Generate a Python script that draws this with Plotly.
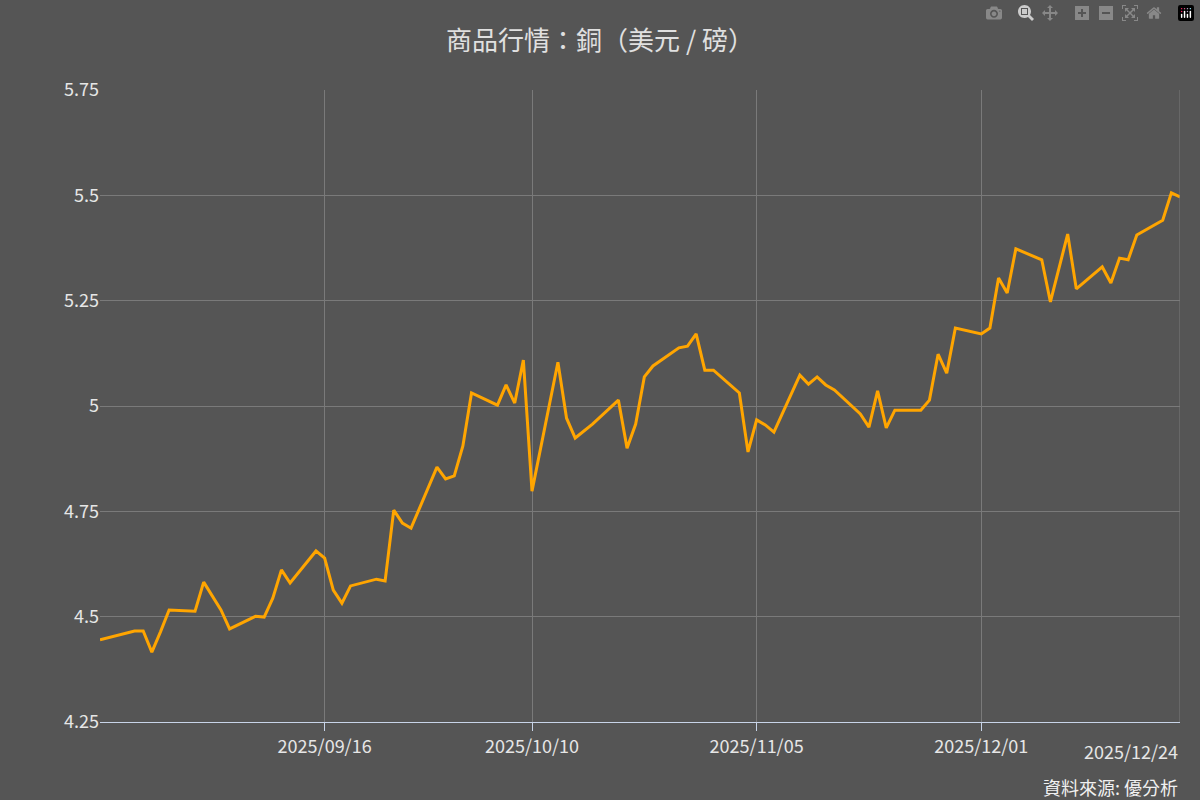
import plotly.graph_objects as go

dates = ["2025-08-21", "2025-08-25", "2025-08-26", "2025-08-27", "2025-08-28", "2025-08-29",
         "2025-09-01", "2025-09-02", "2025-09-04", "2025-09-05", "2025-09-08", "2025-09-09",
         "2025-09-10", "2025-09-11", "2025-09-12", "2025-09-15", "2025-09-16", "2025-09-17",
         "2025-09-18", "2025-09-19", "2025-09-22", "2025-09-23", "2025-09-24", "2025-09-25",
         "2025-09-26", "2025-09-29", "2025-09-30", "2025-10-01", "2025-10-02", "2025-10-03",
         "2025-10-06", "2025-10-07", "2025-10-08", "2025-10-09", "2025-10-10", "2025-10-13",
         "2025-10-14", "2025-10-15", "2025-10-17", "2025-10-20", "2025-10-21", "2025-10-22",
         "2025-10-23", "2025-10-24", "2025-10-27", "2025-10-28", "2025-10-29", "2025-10-30",
         "2025-10-31", "2025-11-03", "2025-11-04", "2025-11-05", "2025-11-06", "2025-11-07",
         "2025-11-10", "2025-11-11", "2025-11-12", "2025-11-13", "2025-11-14", "2025-11-17",
         "2025-11-18", "2025-11-19", "2025-11-20", "2025-11-21", "2025-11-24", "2025-11-25",
         "2025-11-26", "2025-11-27", "2025-11-28", "2025-12-01", "2025-12-02", "2025-12-03",
         "2025-12-04", "2025-12-05", "2025-12-08", "2025-12-09", "2025-12-11", "2025-12-12",
         "2025-12-15", "2025-12-16", "2025-12-17", "2025-12-18", "2025-12-19", "2025-12-22",
         "2025-12-23", "2025-12-24"]
prices = [4.445, 4.466, 4.466, 4.416, 4.464, 4.516,
          4.513, 4.582, 4.516, 4.471, 4.501, 4.499,
          4.544, 4.611, 4.580, 4.656, 4.639, 4.563,
          4.532, 4.573, 4.589, 4.585, 4.753, 4.722,
          4.710, 4.855, 4.827, 4.834, 4.905, 5.031,
          5.002, 5.050, 5.007, 5.109, 4.798, 5.104,
          4.971, 4.924, 4.957, 5.014, 4.900, 4.957,
          5.069, 5.095, 5.138, 5.142, 5.171, 5.085,
          5.085, 5.031, 4.891, 4.967, 4.955, 4.938,
          5.073, 5.052, 5.069, 5.050, 5.038, 4.981,
          4.950, 5.036, 4.948, 4.990, 4.990, 5.014,
          5.123, 5.078, 5.185, 5.171, 5.185, 5.304,
          5.268, 5.373, 5.347, 5.247, 5.408, 5.278,
          5.330, 5.292, 5.351, 5.347, 5.406, 5.441,
          5.506, 5.496]

x_ticks = ["2025-09-16", "2025-10-10", "2025-11-05", "2025-12-01"]
x_labels = ["2025/09/16", "2025/10/10", "2025/11/05", "2025/12/01"]
last_label = "2025/12/24"
y_ticks = [4.25, 4.5, 4.75, 5, 5.25, 5.5, 5.75]
y_labels = ["4.25", "4.5", "4.75", "5", "5.25", "5.5", "5.75"]

font = "Noto Sans CJK TC"
fig = go.Figure()
fig.add_trace(go.Scatter(x=dates, y=prices, mode="lines",
                         line=dict(color="#ffa500", width=3), hoverinfo="x+y"))

fig.update_layout(
    width=1200, height=800, paper_bgcolor="#555555", plot_bgcolor="#555555",
    margin=dict(l=100, r=20, t=90, b=78), showlegend=False,
    font=dict(family=font, color="#e6e6e6", size=18),
    title=dict(text="商品行情：銅（美元 / 磅）", x=0.5, xanchor="center", y=0.96,
               font=dict(size=26, color="#e0e0e0")),
)
fig.update_xaxes(range=[dates[0], dates[-1]], tickvals=x_ticks, ticktext=x_labels,
                 showgrid=True, gridcolor="#7a7a7a", gridwidth=1,
                 showline=True, linecolor="#c8d4e8", linewidth=1,
                 ticks="outside", tickcolor="#c8d4e8", ticklen=8,
                 tickfont=dict(size=18, color="#e6e6e6"))
fig.update_yaxes(range=[4.25, 5.75], tickvals=y_ticks, ticktext=y_labels,
                 showgrid=True, gridcolor="#7a7a7a", gridwidth=1, zeroline=False,
                 ticks="", tickfont=dict(size=18, color="#e6e6e6"))
fig.add_annotation(x=dates[-1], y=0, xref="x", yref="paper", yanchor="top", xanchor="right",
                   yshift=-14, text=last_label, showarrow=False,
                   font=dict(size=18, color="#e6e6e6"))
fig.add_shape(type="line", x0=dates[-1], x1=dates[-1], y0=0, y1=1, yref="paper",
              line=dict(color="#7a7a7a", width=1))
fig.add_annotation(x=1, y=0, xref="paper", yref="paper", xanchor="right", yanchor="top",
                   yshift=-50, text="資料來源: 優分析", showarrow=False,
                   font=dict(size=18, color="#f0f0f0"))

fig.write_html("out.html")

# drop the default page margin so the figure fills the window
with open("out.html", encoding="utf-8") as f:
    page = f.read()
page = page.replace("<head>", "<head><style>body{margin:0;overflow:hidden}</style>", 1)
with open("out.html", "w", encoding="utf-8") as f:
    f.write(page)
